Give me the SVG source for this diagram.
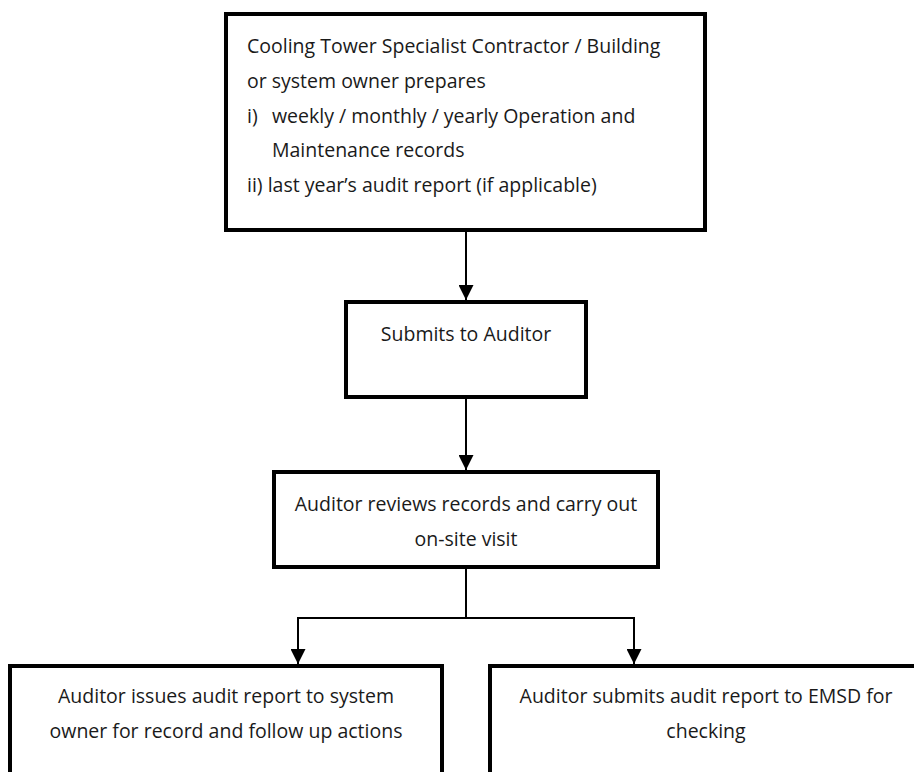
<svg xmlns="http://www.w3.org/2000/svg" width="914" height="772" viewBox="0 0 914 772">
<defs>
<marker id="ah" markerWidth="15" markerHeight="15" refX="15" refY="7.5" orient="auto" markerUnits="userSpaceOnUse">
<path d="M0,0 L15,7.5 L0,15 Z" fill="#000"/>
</marker>
<style>
.box{fill:#fff;stroke:#000;stroke-width:4}
.t{font-family:"Open Sans","Noto Sans",sans-serif;font-size:19.5px;fill:#1a1a1a}
.c{text-anchor:middle}
.ln{fill:none;stroke:#000;stroke-width:2}
</style>
</defs>
<rect width="914" height="772" fill="#fff"/>
<g id="connectors">
<line class="ln" x1="466" y1="232" x2="466" y2="300" marker-end="url(#ah)"/>
<line class="ln" x1="466" y1="399" x2="466" y2="470" marker-end="url(#ah)"/>
<line class="ln" x1="466" y1="569" x2="466" y2="618"/>
<polyline class="ln" points="298,618 634,618"/>
<line class="ln" x1="298" y1="617" x2="298" y2="664" marker-end="url(#ah)"/>
<line class="ln" x1="634" y1="617" x2="634" y2="664" marker-end="url(#ah)"/>
</g>
<g id="node-prepare">
<rect class="box" x="226" y="14" width="479" height="216"/>
<text class="t" x="247" y="53">Cooling Tower Specialist Contractor / Building</text>
<text class="t" x="247" y="88">or system owner prepares</text>
<text class="t" x="247" y="123">i)</text>
<text class="t" x="272" y="123">weekly / monthly / yearly Operation and</text>
<text class="t" x="272" y="157">Maintenance records</text>
<text class="t" x="247" y="192">ii) last year’s audit report (if applicable)</text>
</g>
<g id="node-submit">
<rect class="box" x="346" y="302" width="240" height="95"/>
<text class="t c" x="466" y="341">Submits to Auditor</text>
</g>
<g id="node-review">
<rect class="box" x="274" y="472" width="384" height="95"/>
<text class="t c" x="466" y="511">Auditor reviews records and carry out</text>
<text class="t c" x="466" y="546">on-site visit</text>
</g>
<g id="node-issue">
<rect class="box" x="10" y="666" width="432" height="140"/>
<text class="t c" x="226" y="703">Auditor issues audit report to system</text>
<text class="t c" x="226" y="738">owner for record and follow up actions</text>
</g>
<g id="node-emsd">
<rect class="box" x="490" y="666" width="432" height="140"/>
<text class="t c" x="706" y="703">Auditor submits audit report to EMSD for</text>
<text class="t c" x="706" y="738">checking</text>
</g>
</svg>
